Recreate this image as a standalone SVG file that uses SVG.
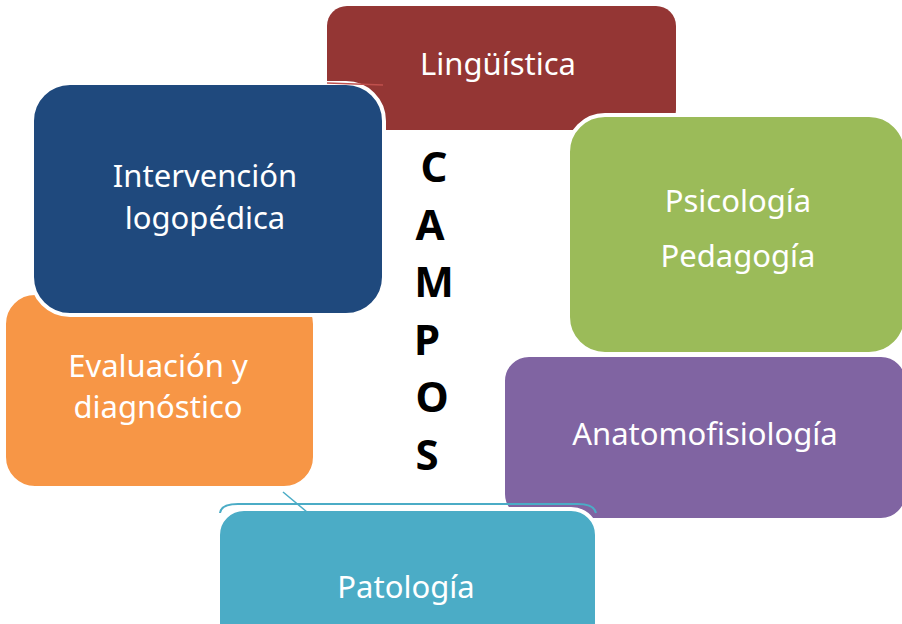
<svg xmlns="http://www.w3.org/2000/svg" width="902" height="624" viewBox="0 0 902 624">
<style>
.box{stroke:#ffffff;stroke-width:4}
.lbl{font-family:"Noto Sans","Open Sans","Liberation Sans",sans-serif;font-size:31px;fill:#ffffff;text-anchor:middle}
.big{font-family:"Noto Sans","Open Sans","Liberation Sans",sans-serif;font-size:42px;font-weight:bold;fill:#000000;text-anchor:middle}
</style>
<rect width="902" height="624" fill="#ffffff"/>
<g id="linguistica">
<rect x="327" y="6" width="349" height="124" rx="20" fill="#943634"/>
<text class="lbl" x="498" y="75">Lingüística</text>
</g>
<g id="evaluacion">
<rect class="box" x="4" y="293" width="311" height="195" rx="31" fill="#F79646"/>
<text class="lbl" x="158" y="377">Evaluación y</text>
<text class="lbl" x="158" y="418">diagnóstico</text>
</g>
<g id="intervencion">
<rect class="box" x="32" y="83" width="352" height="232" rx="38" fill="#1F497D"/>
<text class="lbl" x="205" y="187">Intervención</text>
<text class="lbl" x="205" y="229">logopédica</text>
</g>
<g id="psicologia">
<rect class="box" x="568" y="115" width="338" height="239" rx="37" fill="#9BBB59"/>
<text class="lbl" x="738" y="212">Psicología</text>
<text class="lbl" x="738" y="267">Pedagogía</text>
</g>
<g id="anatomofisiologia">
<rect class="box" x="503" y="355" width="404" height="165" rx="26" fill="#8064A2"/>
<text class="lbl" x="705" y="445">Anatomofisiología</text>
</g>
<g id="patologia">
<rect class="box" x="218" y="509" width="379" height="140" rx="26" fill="#4BACC6"/>
<path d="M220 513 Q221 504 238 504 L578 504 Q594 504 596 513" fill="none" stroke="#4BACC6" stroke-width="2"/>
<text class="lbl" x="406" y="598">Patología</text>
</g>
<g id="campos">
<text class="big" x="434" y="182">C</text>
<text class="big" x="430" y="240">A</text>
<text class="big" x="434" y="297">M</text>
<text class="big" x="427" y="355">P</text>
<text class="big" x="432" y="412">O</text>
<text class="big" x="427" y="470">S</text>
</g>
<g id="connectors">
<line x1="327" y1="83" x2="383" y2="85" stroke="#C0504D" stroke-width="1.5"/>
<line x1="283" y1="492" x2="307" y2="512" stroke="#4BACC6" stroke-width="1.5"/>
</g>
</svg>
